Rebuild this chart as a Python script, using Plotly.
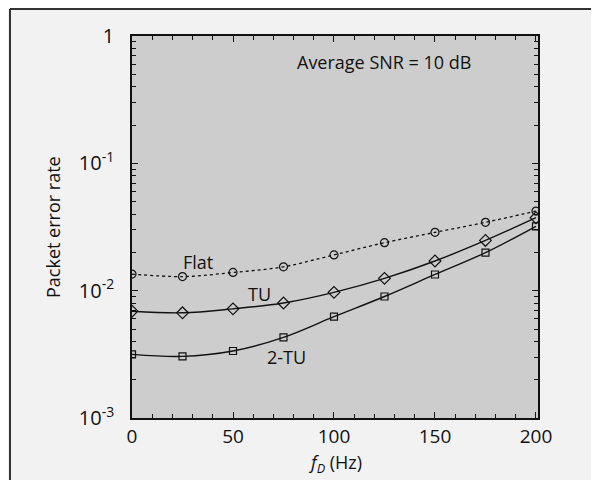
import plotly.graph_objects as go

fd = [0, 25, 50, 75, 100, 125, 150, 175, 200]
flat = [0.0135, 0.0129, 0.0139, 0.0154, 0.0191, 0.0238, 0.0287, 0.0344, 0.0422]
tu = [0.0069, 0.0067, 0.0072, 0.0080, 0.0097, 0.0125, 0.0171, 0.0248, 0.0374]
tu2 = [0.00316, 0.00305, 0.00336, 0.0043, 0.00625, 0.0090, 0.0134, 0.0199, 0.032]

y_tickvals = [1e-3, 1e-2, 1e-1, 1]
y_ticktext = ["10<sup>-3</sup>", "10<sup>-2</sup>", "10<sup>-1</sup>", "1"]
x_tickvals = [0, 50, 100, 150, 200]

FONT = "Open Sans, Noto Sans, sans-serif"
INK = "#111111"

fig = go.Figure()
fig.add_trace(go.Scatter(x=fd, y=flat, mode="lines+markers", name="Flat",
                         line=dict(color=INK, width=1.3, dash="dot", shape="spline"),
                         marker=dict(symbol="circle-open", size=8, color=INK, line=dict(width=1.2))))
fig.add_trace(go.Scatter(x=fd, y=tu, mode="lines+markers", name="TU",
                         line=dict(color=INK, width=1.4, shape="spline"),
                         marker=dict(symbol="diamond-open", size=9, color=INK, line=dict(width=1.2))))
fig.add_trace(go.Scatter(x=fd, y=tu2, mode="lines+markers", name="2-TU",
                         line=dict(color=INK, width=1.4, shape="spline"),
                         marker=dict(symbol="square-open", size=7, color=INK, line=dict(width=1.2))))

minor_y = [m * 10 ** e for e in (-3, -2, -1) for m in range(2, 10)]
minor_x = [v for v in range(0, 210, 10) if v % 50 != 0]

fig.update_xaxes(range=[0, 201], tickvals=x_tickvals, ticks="inside", ticklen=6,
                 tickcolor=INK, linecolor=INK, linewidth=1.5, mirror="allticks",
                 showline=True, showgrid=False, zeroline=False,
                 minor=dict(tickvals=minor_x, ticks="inside", ticklen=4, tickcolor=INK),
                 tickfont=dict(size=19, family=FONT, color=INK))
fig.update_yaxes(type="log", range=[-3, 0], tickvals=y_tickvals, ticktext=y_ticktext,
                 ticks="inside", ticklen=6, tickcolor=INK, linecolor=INK, linewidth=1.5,
                 mirror="allticks", showline=True, showgrid=False, zeroline=False,
                 ticklabelstandoff=12,
                 minor=dict(tickvals=minor_y, ticks="inside", ticklen=4, tickcolor=INK),
                 tickfont=dict(size=20, family=FONT, color=INK))

# axis titles
fig.add_annotation(x=0.5, y=-0.12, xref="paper", yref="paper", text="<i>f<sub>D</sub></i> (Hz)",
                   xanchor="center", yanchor="middle",
                   showarrow=False, font=dict(size=18, family=FONT, color=INK))
fig.add_annotation(x=-0.1946, y=0.5, xref="paper", yref="paper", text="Packet error rate",
                   xanchor="center", yanchor="middle",
                   textangle=-90, showarrow=False, font=dict(size=18, family=FONT, color=INK))

fig.add_annotation(x=124.6, y=-0.204, xref="x", yref="y", text="Average SNR = 10 dB",
                   showarrow=False, font=dict(size=18, family=FONT, color=INK))
fig.add_annotation(x=32.5, y=-1.772, xref="x", yref="y", text="Flat",
                   showarrow=False, font=dict(size=18, family=FONT, color=INK))
fig.add_annotation(x=63, y=-2.026, xref="x", yref="y", text="TU",
                   showarrow=False, font=dict(size=18, family=FONT, color=INK))
fig.add_annotation(x=76.4, y=-2.519, xref="x", yref="y", text="2-TU",
                   showarrow=False, font=dict(size=18, family=FONT, color=INK))

# outer frame lines (top and left)
fig.add_shape(type="line", xref="paper", yref="paper", x0=-0.3005, x1=1.2, y0=1.0707, y1=1.0707,
              line=dict(color="#333333", width=2))
fig.add_shape(type="line", xref="paper", yref="paper", x0=-0.3005, x1=-0.3005, y0=1.0707, y1=-0.2,
              line=dict(color="#333333", width=2))

# page body has an 8px margin: shift the canvas so the plot area lands where the reference has it
fig.update_layout(width=591, height=472, margin=dict(l=124, r=61, t=28, b=62),
                  plot_bgcolor="#cdcdcd", paper_bgcolor="#f2f2f2", showlegend=False,
                  font=dict(family=FONT, color=INK))

fig.write_html("out.html")
